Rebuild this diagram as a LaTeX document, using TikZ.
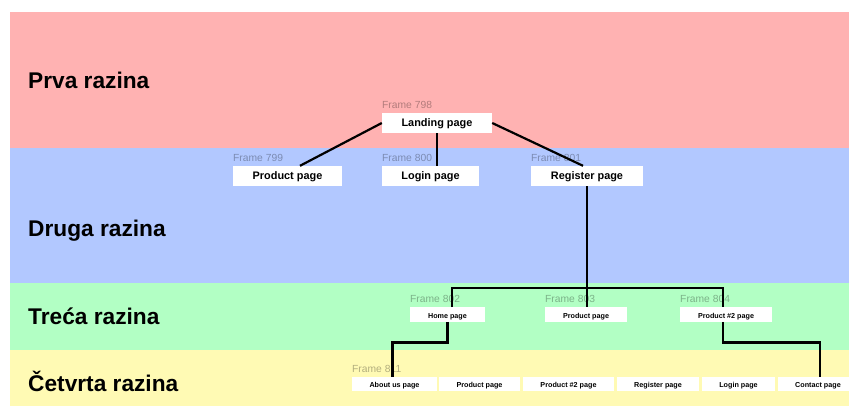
\documentclass[tikz,border=0pt]{standalone}
\usepackage{fontspec}
\setmainfont{Liberation Sans}
\definecolor{pinkband}{HTML}{FFB2B2}
\definecolor{blueband}{HTML}{B2C8FF}
\definecolor{greenband}{HTML}{B2FFC4}
\definecolor{yellowband}{HTML}{FFFAB4}
\begin{document}
\begin{tikzpicture}[x=1pt,y=-1pt,
  lvl/.style={anchor=base west, inner sep=0, font=\fontsize{22.7}{26}\selectfont\bfseries},
  bigbox/.style={fill=white, minimum height=20pt, inner sep=0, text height=0.72em, text depth=0pt, font=\fontsize{10.9}{12}\selectfont\bfseries},
  smallbox/.style={fill=white, minimum height=14.5pt, inner sep=0, text height=0.72em, text depth=0pt, font=\fontsize{7.2}{8}\selectfont\bfseries},
  framelbl/.style={anchor=base west, inner sep=0, font=\fontsize{10.3}{12}\selectfont, text=black, text opacity=0.3},
  link/.style={line width=2.2pt, black}
]
\useasboundingbox (0,0) rectangle (849,411);
\clip (0,0) rectangle (849,411);
% bands
\fill[pinkband] (10,12) rectangle (849,148);
\fill[blueband] (10,148) rectangle (849,283);
\fill[greenband] (10,283) rectangle (849,350);
\fill[yellowband] (10,350) rectangle (849,406);
% level titles
\node[lvl] (t1) at (28,89) {Prva razina};
\node[lvl] (t2) at (28,237) {Druga razina};
\node[lvl] (t3) at (28,325) {Treća razina};
\node[lvl] (t4) at (28,391.5) {Četvrta razina};
% frame labels
\node[framelbl] (f798) at (382,109) {Frame 798};
\node[framelbl] (f799) at (233,162) {Frame 799};
\node[framelbl] (f800) at (382,162) {Frame 800};
\node[framelbl] (f801) at (531,162) {Frame 801};
\node[framelbl] (f802) at (410,302.5) {Frame 802};
\node[framelbl] (f803) at (545,302.5) {Frame 803};
\node[framelbl] (f804) at (680,302.5) {Frame 804};
\node[framelbl] (f811) at (352,372.5) {Frame 811};
% level 1-2 boxes
\node[bigbox, minimum width=110pt] (landing) at (437,123) {Landing page};
\node[bigbox, minimum width=109pt] (prod2) at (287.5,176) {Product page};
\node[bigbox, minimum width=97pt] (login) at (430.5,176) {Login page};
\node[bigbox, minimum width=112pt] (register) at (587,176) {Register page};
% level 3 boxes
\node[smallbox, minimum width=75pt] (home) at (447.5,314.5) {Home page};
\node[smallbox, minimum width=82pt] (prod3) at (586,314.5) {Product page};
\node[smallbox, minimum width=92pt] (prod3b) at (726,314.5) {Product \#2 page};
% level 4 boxes
\node[smallbox, minimum width=85pt] (about) at (394.5,384) {About us page};
\node[smallbox, minimum width=81pt] (p4) at (479.5,384) {Product page};
\node[smallbox, minimum width=91pt] (p4b) at (568.5,384) {Product \#2 page};
\node[smallbox, minimum width=82pt] (reg4) at (658,384) {Register page};
\node[smallbox, minimum width=73pt] (login4) at (738.5,384) {Login page};
\node[smallbox, minimum width=80pt] (contact) at (818,384) {Contact page};
% connectors
\draw[link] (landing.west) -- ([xshift=12.5pt]prod2.north);
\draw[link] (landing.south) -- (landing.south |- login.north);
\draw[link] (landing.east) -- ([xshift=-4pt]register.north);
\draw[link] (register.south) -- (register.south |- prod3.north);
\draw[link] ([xshift=4.5pt]home.north) -- ++(0,-19) -| ([xshift=-3pt]prod3b.north);
\draw[link] (home.south) -- ++(0,20.5) -| ([xshift=-2pt]about.north);
\draw[link] ([xshift=-3pt]prod3b.south) -- ++(0,20.5) -| ([xshift=2pt]contact.north);
\end{tikzpicture}
\end{document}
